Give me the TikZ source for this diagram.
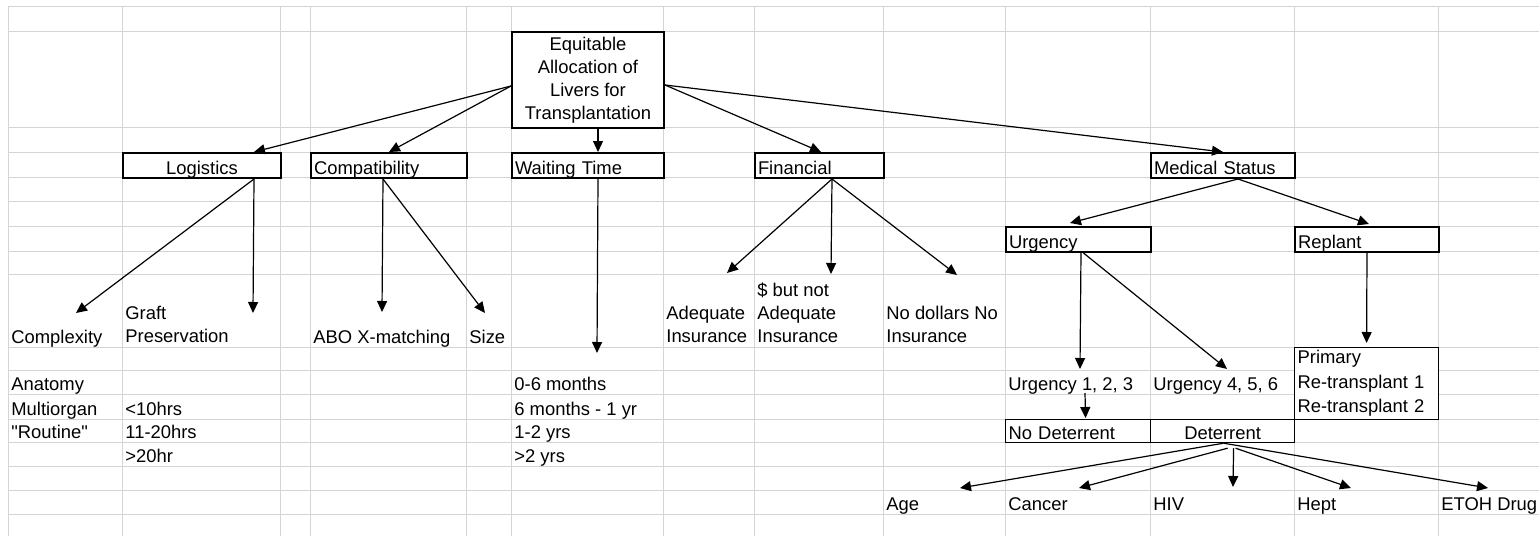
\documentclass[tikz,border=0pt]{standalone}
\usepackage{fontspec}
\setmainfont{Liberation Sans}[Ligatures=TeXOff]
\usepackage{tikz}
\usetikzlibrary{arrows.meta, calc}

\begin{document}
\begin{tikzpicture}[
        x=0.5pt, y=-0.5pt,
        font=\fontsize{9.2pt}{11.5pt}\selectfont,
        grid/.style={draw=black!17, line width=0.5pt},
        box/.style={rectangle, draw, line width=1pt, fill=white, inner sep=0pt, anchor=north west},
        cell/.style={box, minimum height=12.5pt, text height=10pt, text depth=1.5pt},
        lcell/.style={cell, inner xsep=1.5pt, align=left},
        thinbox/.style={line width=0.6pt},
        lbl/.style={inner sep=0pt, anchor=base west},
        mlbl/.style={inner sep=0pt, anchor=south west, align=left},
        arr/.style={-{Triangle[length=5.5pt, width=5pt]}, line width=0.6pt}
    ]
    \fill[white] (0,0) rectangle (1539,536);
    \useasboundingbox (0,0) rectangle (1539,536);

    % Sheet grid
    \foreach \gx in {8,122,280,310,466,511,663,754,883,1005,1150,1294,1438}
        \draw[grid] (\gx,6) -- (\gx,536);
    \foreach \gy in {6,31,127,152,177,201,226,251,274,347,370,394,419,442,466,490,514}
        \draw[grid] (8,\gy) -- (1539,\gy);

    % Goal and criteria
    \node[box, minimum width=76pt, minimum height=48pt, align=center] (root) at (511,31) {Equitable\\Allocation of\\Livers for\\Transplantation};
    \node[cell, minimum width=79pt, align=center] (logis) at (122,152) {Logistics};
    \node[lcell, text width=75pt] (compat) at (310,152) {Compatibility};
    \node[lcell, text width=73pt] (wait) at (511,152) {Waiting Time};
    \node[lcell, text width=61.5pt] (finan) at (754,152) {Financial};
    \node[lcell, text width=69pt] (med) at (1150,152) {Medical Status};

    % Medical sub-criteria
    \node[lcell, text width=69.5pt] (urg) at (1005,226) {Urgency};
    \node[lcell, text width=69pt] (rep) at (1294,226) {Replant};
    \node[box, thinbox, inner xsep=1.5pt, text width=69pt, minimum height=36pt, align=left, font=\fontsize{9.2pt}{12.2pt}\selectfont] (prim) at (1294,347) {Primary\\Re-transplant 1\\Re-transplant 2};
    \node[lcell, thinbox, text width=69.5pt, minimum height=11.5pt] (nodet) at (1005,419) {No Deterrent};
    \node[cell, thinbox, minimum width=72pt, minimum height=11.5pt, align=center] (dete) at (1150,419) {Deterrent};

    % Attributes
    \node[lbl] (cplx) at (11,343) {Complexity};
    \node[mlbl] (graft) at (125,343) {Graft\\Preservation};
    \node[lbl] (abo) at (313,343) {ABO X-matching};
    \node[lbl] (size) at (469,343) {Size};
    \node[mlbl] (adeq) at (666,343) {Adequate\\Insurance};
    \node[mlbl] (dbut) at (757,343) {\$ but not\\Adequate\\Insurance};
    \node[mlbl] (nodol) at (886,343) {No dollars No\\Insurance};

    % Levels
    \node[lbl] (anat) at (11,390) {Anatomy};
    \node[lbl] (multi) at (11,415) {Multiorgan};
    \node[lbl] (routine) at (11,438) {"Routine"};
    \node[lbl] (lt10) at (125,415) {<10hrs};
    \node[lbl] (h1120) at (125,438) {11-20hrs};
    \node[lbl] (gt20) at (125,462) {>20hr};
    \node[lbl] (m06) at (514,390) {0-6 months};
    \node[lbl] (m6y1) at (514,415) {6 months - 1 yr};
    \node[lbl] (y12) at (514,438) {1-2 yrs};
    \node[lbl] (gt2y) at (514,462) {>2 yrs};
    \node[lbl] (u123) at (1008,390) {Urgency 1, 2, 3};
    \node[lbl] (u456) at (1153,390) {Urgency 4, 5, 6};
    \node[lbl] (age) at (886,510) {Age};
    \node[lbl] (cancer) at (1008,510) {Cancer};
    \node[lbl] (hiv) at (1153,510) {HIV};
    \node[lbl] (hept) at (1297,510) {Hept};
    \node[lbl] (etoh) at (1441,510) {ETOH Drug};

    % Arrows from the goal
    \draw[arr] ($(root.west)+(0,6)$) -- ($(logis.north)+(52,0)$);
    \draw[arr] ($(root.west)+(0,6)$) -- (compat.north);
    \draw[arr] ($(root.south)+(10,0)$) -- ($(wait.north)+(10,0)$);
    \draw[arr] ($(root.east)+(0,5)$) -- ($(finan.north)+(1.5,0)$);
    \draw[arr] ($(root.east)+(0,5)$) -- (med.north);

    % Arrows to attributes
    \draw[arr] ($(logis.south)+(52,0)$) -- ($(cplx.base west)+(65,-30)$);
    \draw[arr] ($(logis.south)+(52,0)$) -- ($(graft.south west)+(128,-30)$);
    \draw[arr] ($(compat.south)+(-6,0)$) -- ($(abo.base west)+(69,-31)$);
    \draw[arr] ($(compat.south)+(-6,0)$) -- ($(size.base west)+(16,-30)$);
    \draw[arr] ($(wait.south)+(10,0)$) -- ($(m06.base west)+(83,-37)$);
    \draw[arr] ($(finan.south)+(12.5,0)$) -- ($(adeq.south west)+(61,-70)$);
    \draw[arr] ($(finan.south)+(12.5,0)$) -- ($(dbut.south west)+(74,-69)$);
    \draw[arr] ($(finan.south)+(12.5,0)$) -- ($(nodol.south west)+(71,-68)$);
    \draw[arr] ($(med.south)+(15,0)$) -- ($(urg.north)+(-8.5,-3)$);
    \draw[arr] ($(med.south)+(15,0)$) -- ($(rep.north)+(2,-2)$);
    \draw[arr] ($(urg.south)+(2.5,0)$) -- ($(u123.base west)+(72,-21)$);
    \draw[arr] ($(urg.south)+(5,0)$) -- ($(u456.base west)+(74,-21)$);
    \draw[arr] (rep.south) -- ($(prim.north)+(0,-4)$);
    \draw[arr] ($(u123.base west)+(77,3)$) -- ($(nodet.north)+(7.5,-1)$);

    % Deterrents
    \draw[arr] ($(dete.south)+(1,0)$) -- ($(age.base west)+(74,-22)$);
    \draw[arr] ($(dete.south)+(5,5)$) -- ($(cancer.base west)+(71,-22)$);
    \draw[arr] ($(dete.south)+(11,5)$) -- ($(hiv.base west)+(80,-23)$);
    \draw[arr] ($(dete.south)+(13,5)$) -- ($(hept.base west)+(54,-22)$);
    \draw[arr] ($(dete.south)+(1,0)$) -- ($(etoh.base west)+(47,-22)$);

\end{tikzpicture}
\end{document}
